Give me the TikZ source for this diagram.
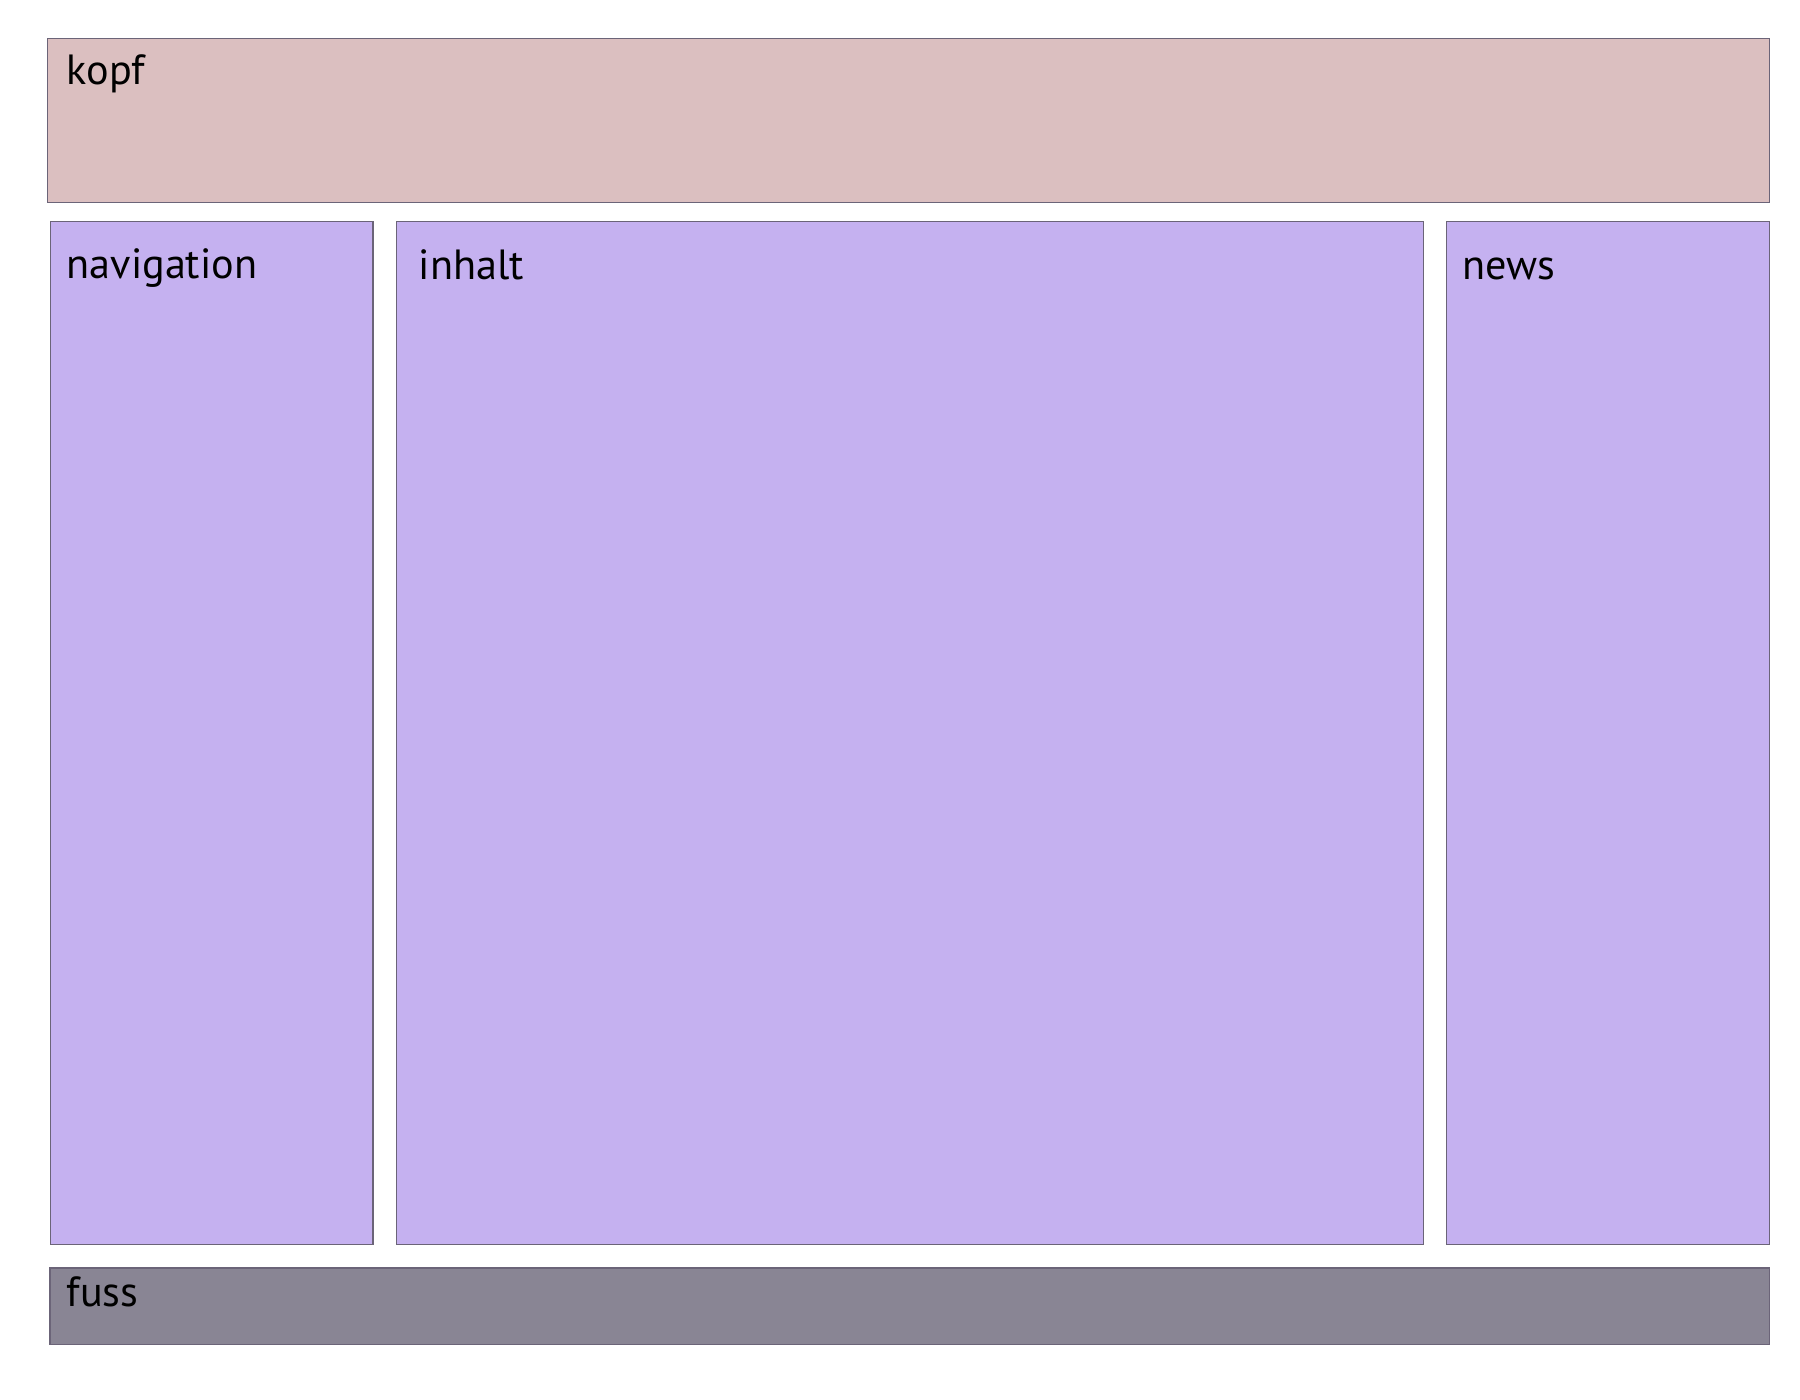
\documentclass[tikz,border=0pt]{standalone}
\usepackage{fontspec}
\setmainfont{PT Sans}
\usepackage{tikz}

\definecolor{kopffarbe}{HTML}{DBBFC0}
\definecolor{spaltenfarbe}{HTML}{C5B1F0}
\definecolor{fussfarbe}{HTML}{898594}
\definecolor{randfarbe}{HTML}{6B6478}

\tikzset{
    bereich/.style = {draw = randfarbe, line width = 0.4pt, anchor = north west, inner sep = 0pt},
    titel/.style = {anchor = base west, inner sep = 0pt, font = \fontsize{12}{14}\selectfont}
}

\begin{document}
\begin{tikzpicture}[x = 0.01cm, y = -0.01cm]
        \useasboundingbox (0, 0) rectangle (1800, 1400);
        \node[bereich, fill = kopffarbe, minimum width = 17.213cm, minimum height = 1.64cm] (kopf) at (46.7, 37.7) {};
        \node[bereich, fill = spaltenfarbe, minimum width = 3.223cm, minimum height = 10.223cm] (navigation) at (49.7, 220.7) {};
        \node[bereich, fill = spaltenfarbe, minimum width = 10.263cm, minimum height = 10.22cm] (inhalt) at (395.7, 221) {};
        \node[bereich, fill = spaltenfarbe, minimum width = 3.223cm, minimum height = 10.22cm] (news) at (1446, 221) {};
        \node[bereich, fill = fussfarbe, minimum width = 17.187cm, minimum height = 0.764cm] (fuss) at (49.3, 1267.3) {};
        \node[titel] (kopf-titel) at (66, 85) {kopf};
        \node[titel] (navigation-titel) at (66, 278) {navigation};
        \node[titel] (inhalt-titel) at (418, 279) {inhalt};
        \node[titel] (news-titel) at (1462, 279) {news};
        \node[titel] (fuss-titel) at (66, 1306) {fuss};
    \end{tikzpicture}
\end{document}
